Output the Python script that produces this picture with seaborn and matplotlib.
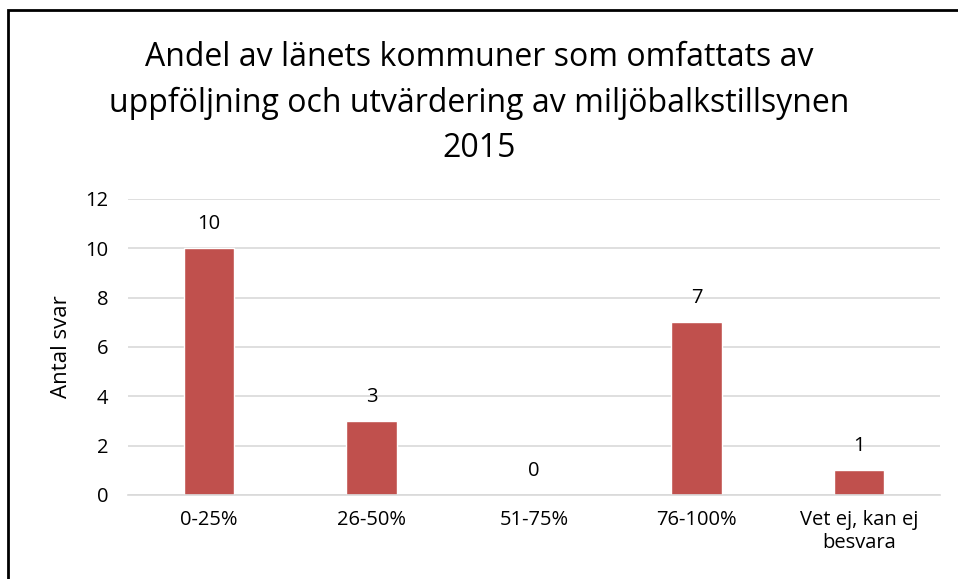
import matplotlib
matplotlib.use("Agg")
import matplotlib.pyplot as plt
import seaborn as sns
import pandas as pd
from matplotlib.patches import Rectangle

categories = ["0-25%", "26-50%", "51-75%", "76-100%", "Vet ej, kan ej\nbesvara"]
values = [10, 3, 0, 7, 1]
yticks = [0, 2, 4, 6, 8, 10, 12]
title = "Andel av länets kommuner som omfattats av\nuppföljning och utvärdering av miljöbalkstillsynen\n2015"
ylabel = "Antal svar"

sns.set_theme(style="white")
plt.rcParams['font.family'] = ['Open Sans', 'DejaVu Sans']
plt.rcParams['text.color'] = 'black'

df = pd.DataFrame({"cat": categories, "val": values})

fig = plt.figure(figsize=(9.58, 5.79), dpi=100)
ax = fig.add_axes([128/958, 1-495/579, (940-128)/958, (495-199)/579])

sns.barplot(data=df, x="cat", y="val", color="#C0504D", saturation=1, width=0.31, ax=ax)

ax.set_ylim(0, 12)
ax.set_yticks(yticks)
ax.yaxis.grid(True, color="#D9D9D9", linewidth=1.2)
ax.set_axisbelow(True)
for s in ["top", "right", "left"]:
    ax.spines[s].set_visible(False)
ax.spines["bottom"].set_color("#D9D9D9")
ax.spines["bottom"].set_linewidth(1.2)
ax.tick_params(axis="both", length=0, labelsize=14.5, colors="black")
ax.tick_params(axis="x", pad=11)
ax.tick_params(axis="y", pad=14)
ax.set_xlabel("")
ax.set_ylabel(ylabel, fontsize=16, labelpad=10, color="black")
ax.set_xlim(-0.5, len(categories) - 0.5)

for container in ax.containers:
    ax.bar_label(container, fontsize=14.5, padding=10, color="black")

fig.text(0.5, 1 - 103/579, title, ha="center", va="center", fontsize=23, linespacing=1.5, color="black")

fig.patches.append(Rectangle((8/958, -0.1), 1.2, 1 - 10/579 + 0.1, transform=fig.transFigure,
                             fill=False, edgecolor="black", linewidth=2, clip_on=False))

fig.savefig("out.png", dpi=100)
